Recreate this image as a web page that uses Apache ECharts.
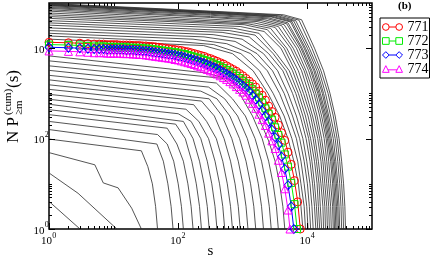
<!DOCTYPE html>
<html><head><meta charset="utf-8">
<script src="https://cdn.jsdelivr.net/npm/echarts@6/dist/echarts.min.js"></script>
<style>html,body{margin:0;padding:0;background:#fff}#c{width:431px;height:258px}</style>
</head><body><div id="c"></div>
<script>
// All curve values are stored as [log10(s), log10(N P)].
const lowCurves = [
 [[0,0.61],[0.48,0]],
 [[0,1.24],[0.45,0.79],[1.05,0]],
 [[0,1.69],[0.71,1.42],[0.84,1.02],[1.07,0.91],[1.28,0.46],[1.43,0]],
 [[0,1.99],[1.43,1.73],[1.53,1.38],[1.6,1.0],[1.65,0.5],[1.68,0]],
 [[0,2.2],[1.67,1.88],[1.77,1.5],[1.84,1.0],[1.89,0.5],[1.92,0]],
 [[0,2.38],[1.68,2.09],[1.83,1.88],[1.93,1.5],[2.0,1.0],[2.05,0.5],[2.08,0]]
];
const midCurves = [
 [[0,2.53],[1.83,2.23],[1.98,1.88],[2.08,1.5],[2.15,1.0],[2.2,0.5],[2.23,0]],
 [[0,2.64],[1.96,2.32],[2.11,2.0],[2.21,1.5],[2.28,1.0],[2.33,0.5],[2.36,0]],
 [[0,2.76],[2.08,2.38],[2.23,2.0],[2.33,1.5],[2.4,1.0],[2.45,0.5],[2.48,0]],
 [[0,2.87],[2.0,2.55],[2.2,2.38],[2.35,2.0],[2.45,1.5],[2.52,1.0],[2.57,0.5],[2.6,0]],
 [[0,2.98],[2.12,2.65],[2.32,2.38],[2.47,2.0],[2.57,1.5],[2.64,1.0],[2.69,0.5],[2.72,0]],
 [[0,3.09],[2.24,2.75],[2.44,2.38],[2.59,2.0],[2.69,1.5],[2.76,1.0],[2.81,0.5],[2.84,0]],
 [[0,3.19],[2.36,2.83],[2.56,2.5],[2.71,2.0],[2.81,1.5],[2.88,1.0],[2.93,0.5],[2.96,0]],
 [[0,3.3],[2.48,2.88],[2.68,2.5],[2.83,2.0],[2.93,1.5],[3.0,1.0],[3.05,0.5],[3.08,0]],
 [[0,3.4],[2.35,3.05],[2.6,2.88],[2.8,2.5],[2.95,2.0],[3.05,1.5],[3.12,1.0],[3.17,0.5],[3.2,0]],
 [[0,3.51],[2.47,3.14],[2.72,2.88],[2.92,2.5],[3.07,2.0],[3.17,1.5],[3.24,1.0],[3.29,0.5],[3.32,0]],
 [[0,3.61],[2.59,3.23],[2.84,2.88],[3.04,2.5],[3.19,2.0],[3.29,1.5],[3.36,1.0],[3.41,0.5],[3.44,0]],
 [[0,3.72],[2.7,3.33],[2.95,3.0],[3.15,2.5],[3.3,2.0],[3.4,1.5],[3.47,1.0],[3.52,0.5],[3.55,0]],
 [[0,3.83],[2.45,3.45],[2.8,3.3],[3.05,2.95],[3.25,2.45],[3.4,1.95],[3.5,1.5],[3.57,1.0],[3.62,0.5],[3.65,0]]
];
const highCurves = [
 [[0,4.2],[2.39,4.06],[2.84,3.88],[3.16,3.5],[3.39,3.0],[3.57,2.5],[3.7,2.0],[3.79,1.5],[3.86,1.0],[3.9,0.5],[3.93,0]],
 [[0,4.27],[1.97,4.15],[2.55,4.08],[2.97,3.88],[3.26,3.5],[3.47,3.0],[3.64,2.5],[3.76,2.0],[3.85,1.5],[3.9,1.0],[3.95,0.5],[3.97,0]],
 [[0,4.33],[2.23,4.2],[2.75,4.1],[3.12,3.88],[3.38,3.5],[3.57,3.0],[3.71,2.5],[3.83,2.0],[3.9,1.5],[3.95,1.0],[3.99,0.5],[4.01,0]],
 [[0,4.39],[2.4,4.25],[2.88,4.15],[3.22,3.88],[3.46,3.5],[3.64,3.0],[3.77,2.5],[3.88,2.0],[3.95,1.5],[4.0,1.0],[4.03,0.5],[4.05,0]],
 [[0,4.45],[2.54,4.3],[2.99,4.2],[3.32,3.88],[3.54,3.5],[3.7,3.0],[3.83,2.5],[3.93,2.0],[3.99,1.5],[4.04,1.0],[4.07,0.5],[4.09,0]],
 [[0,4.51],[2.68,4.35],[3.1,4.25],[3.4,3.88],[3.62,3.5],[3.77,3.0],[3.89,2.5],[3.98,2.0],[4.04,1.5],[4.08,1.0],[4.11,0.5],[4.13,0]],
 [[0,4.56],[2.79,4.39],[3.19,4.29],[3.47,3.88],[3.67,3.5],[3.82,3.0],[3.93,2.5],[4.02,2.0],[4.07,1.5],[4.11,1.0],[4.14,0.5],[4.16,0]],
 [[0,4.61],[2.86,4.44],[3.25,4.33],[3.52,3.88],[3.72,3.5],[3.86,3.0],[3.97,2.5],[4.05,2.0],[4.11,1.5],[4.15,1.0],[4.17,0.5],[4.19,0]],
 [[0,4.66],[2.96,4.48],[3.33,4.37],[3.59,4.0],[3.77,3.5],[3.9,3.0],[4.01,2.5],[4.09,2.0],[4.14,1.5],[4.18,1.0],[4.2,0.5],[4.22,0]],
 [[0,4.7],[3.02,4.52],[3.38,4.41],[3.64,4.0],[3.81,3.5],[3.94,3.0],[4.05,2.5],[4.12,2.0],[4.17,1.5],[4.21,1.0],[4.24,0.5],[4.25,0]],
 [[0,4.74],[3.08,4.54],[3.43,4.44],[3.68,4.0],[3.86,3.5],[3.98,3.0],[4.08,2.5],[4.16,2.0],[4.21,1.5],[4.24,1.0],[4.27,0.5],[4.28,0]],
 [[0,4.78],[3.17,4.56],[3.5,4.46],[3.74,4.0],[3.91,3.5],[4.02,3.0],[4.12,2.5],[4.19,2.0],[4.24,1.5],[4.27,1.0],[4.3,0.5],[4.31,0]],
 [[0,4.82],[3.22,4.59],[3.55,4.48],[3.78,4.0],[3.95,3.5],[4.06,3.0],[4.15,2.5],[4.22,2.0],[4.27,1.5],[4.3,1.0],[4.33,0.5],[4.34,0]],
 [[0,4.85],[2.5,4.68],[3.28,4.61],[3.6,4.5],[3.83,4.0],[3.98,3.5],[4.1,3.0],[4.19,2.5],[4.26,2.0],[4.3,1.5],[4.33,1.0],[4.36,0.5],[4.37,0]],
 [[0,4.88],[2.5,4.7],[3.33,4.63],[3.64,4.52],[3.87,4.0],[4.02,3.5],[4.13,3.0],[4.22,2.5],[4.29,2.0],[4.33,1.5],[4.36,1.0],[4.39,0.5],[4.4,0]],
 [[0,4.9],[2.5,4.73],[3.38,4.65],[3.68,4.54],[3.9,4.0],[4.05,3.5],[4.16,3.0],[4.25,2.5],[4.31,2.0],[4.36,1.5],[4.39,1.0],[4.41,0.5],[4.42,0]],
 [[0,4.92],[2.5,4.75],[3.4,4.67],[3.7,4.56],[3.92,4.0],[4.07,3.5],[4.18,3.0],[4.27,2.5],[4.33,2.0],[4.38,1.5],[4.41,1.0],[4.43,0.5],[4.44,0]],
 [[0,4.94],[2.5,4.77],[3.44,4.69],[3.74,4.58],[3.95,4.0],[4.1,3.5],[4.2,3.0],[4.29,2.5],[4.35,2.0],[4.4,1.5],[4.43,1.0],[4.45,0.5],[4.46,0]],
 [[0,4.95],[2.5,4.78],[3.46,4.7],[3.76,4.59],[3.97,4.0],[4.12,3.5],[4.23,3.0],[4.31,2.5],[4.37,2.0],[4.42,1.5],[4.45,1.0],[4.47,0.5],[4.48,0]],
 [[0,4.96],[2.5,4.79],[3.5,4.71],[3.79,4.6],[4.0,4.0],[4.15,3.5],[4.25,3.0],[4.33,2.5],[4.4,2.0],[4.44,1.5],[4.47,1.0],[4.49,0.5],[4.5,0]],
 [[0,4.97],[2.5,4.8],[3.53,4.72],[3.82,4.61],[4.03,4.0],[4.18,3.5],[4.28,3.0],[4.36,2.5],[4.43,2.0],[4.47,1.5],[4.5,1.0],[4.52,0.5],[4.53,0]],
 [[0,4.98],[2.5,4.81],[3.58,4.73],[3.87,4.62],[4.07,4.0],[4.21,3.5],[4.32,3.0],[4.4,2.5],[4.46,2.0],[4.5,1.5],[4.53,1.0],[4.55,0.5],[4.56,0]],
 [[0,4.99],[2.5,4.82],[3.63,4.74],[3.91,4.63],[4.11,4.0],[4.25,3.5],[4.35,3.0],[4.43,2.5],[4.49,2.0],[4.53,1.5],[4.56,1.0],[4.58,0.5],[4.59,0]]
];

// Colored series: shared log10(s) grid, log10(N P) per series, and final point
const sizeLog = [0,0.301,0.477,0.602,0.699,0.778,0.845,0.903,0.954,1,
 1.05,1.1,1.15,1.2,1.25,1.3,1.35,1.4,1.45,1.5,
 1.55,1.6,1.65,1.7,1.75,1.8,1.85,1.9,1.95,2,
 2.05,2.1,2.15,2.2,2.25,2.3,2.35,2.4,2.45,2.5,
 2.55,2.6,2.65,2.7,2.75,2.8,2.85,2.9,2.95,3,
 3.05,3.1,3.15,3.2,3.25,3.3,3.35,3.4,3.45,3.5,
 3.55,3.6,3.65,3.7,3.75,3.8,3.85];
const log771 = [4.13,4.12,4.11,4.10,4.09,4.09,4.09,4.08,4.08,4.08,
 4.08,4.07,4.07,4.07,4.07,4.06,4.06,4.06,4.05,4.05,
 4.04,4.04,4.03,4.02,4.01,4.00,3.99,3.98,3.97,3.96,
 3.95,3.93,3.92,3.90,3.88,3.86,3.84,3.82,3.79,3.77,
 3.74,3.71,3.68,3.65,3.61,3.57,3.53,3.49,3.44,3.39,
 3.33,3.27,3.21,3.14,3.05,2.96,2.85,2.72,2.60,2.47,
 2.30,2.13,1.96,1.70,1.43,1.07,0.60];
const log772 = [4.08,4.07,4.06,4.05,4.04,4.04,4.04,4.03,4.03,4.03,
 4.02,4.02,4.02,4.02,4.01,4.01,4.01,4.00,4.00,3.99,
 3.99,3.98,3.97,3.96,3.95,3.94,3.93,3.92,3.91,3.90,
 3.88,3.87,3.85,3.83,3.81,3.79,3.77,3.74,3.72,3.69,
 3.66,3.63,3.60,3.56,3.52,3.48,3.44,3.39,3.34,3.28,
 3.22,3.16,3.09,3.00,2.91,2.80,2.67,2.55,2.42,2.25,
 2.08,1.91,1.65,1.38,1.02,0.55];
const log773 = [4.02,4.01,4.00,3.99,3.98,3.98,3.98,3.97,3.97,3.97,
 3.97,3.97,3.97,3.96,3.96,3.96,3.95,3.95,3.94,3.94,
 3.93,3.92,3.91,3.90,3.89,3.88,3.87,3.86,3.85,3.83,
 3.82,3.80,3.78,3.76,3.74,3.72,3.69,3.67,3.64,3.61,
 3.58,3.55,3.51,3.47,3.43,3.39,3.34,3.29,3.23,3.17,
 3.11,3.04,2.95,2.86,2.75,2.62,2.50,2.37,2.20,2.03,
 1.86,1.60,1.33,0.97,0.50];
const log774 = [3.94,3.93,3.92,3.91,3.90,3.90,3.90,3.89,3.89,3.89,
 3.89,3.89,3.88,3.88,3.88,3.87,3.87,3.86,3.86,3.85,
 3.84,3.83,3.82,3.81,3.80,3.79,3.78,3.77,3.75,3.74,
 3.72,3.70,3.68,3.66,3.64,3.61,3.59,3.56,3.53,3.50,
 3.47,3.43,3.39,3.35,3.31,3.26,3.21,3.15,3.09,3.03,
 2.96,2.87,2.78,2.67,2.54,2.42,2.29,2.12,1.95,1.78,
 1.52,1.25,0.89,0.42];
const end771 = [3.89, 0], end772 = [3.84, 0], end773 = [3.79, 0], end774 = [3.73, 0];

const seriesNames = ['771','772','773','774'];
const seriesColors = ['#ff0000','#00ee00','#0000ff','#ff00ff'];
const labelVals = [1, 100, 10000];
const majorTickVals = [1, 100, 10000];
const minorTickVals = [2,3,4,5,6,7,8,9,10,200,300,400,500,600,700,800,900,1000,20000,30000,40000,50000,60000,70000,80000,90000];

const FONT = 'Liberation Serif';
const P = v => Math.pow(10, v);
const series = [];
[...lowCurves, ...midCurves, ...highCurves].forEach(c => {
  series.push({type:'line', data: c.map(p => [P(p[0]), P(p[1])]), symbol:'none', showSymbol:false,
    lineStyle:{color:'#2a2a2a', width:0.8}, silent:true, z:1, animation:false});
});
const colored = [
  {ly: log771, end: end771, symbol:'circle', size:8, icon:'path://M0,4a4,4 0 1,0 8,0a4,4 0 1,0 -8,0M8,4L16,4M16,4a4,4 0 1,0 8,0a4,4 0 1,0 -8,0'},
  {ly: log772, end: end772, symbol:'rect', size:7, icon:'path://M0,0L8,0L8,8L0,8ZM8,4L16,4M16,0L24,0L24,8L16,8Z'},
  {ly: log773, end: end773, symbol:'diamond', size:[8,9], icon:'path://M0,4L4,0L8,4L4,8ZM8,4L16,4M16,4L20,0L24,4L20,8Z'},
  {ly: log774, end: end774, symbol:'triangle', size:8, icon:'path://M0,8L4,0L8,8ZM6.5,5L17.5,5M16,8L20,0L24,8Z'}
];
colored.forEach((c, k) => {
  const data = c.ly.map((v, i) => [P(sizeLog[i]), P(v)]);
  data.push([P(c.end[0]), P(c.end[1])]);
  series.push({name: seriesNames[k], type:'line', data, symbol:c.symbol, symbolSize:c.size,
    showSymbol:true, showAllSymbol:true,
    itemStyle:{color:'rgba(0,0,0,0)', borderColor:seriesColors[k], borderWidth:1},
    lineStyle:{color:seriesColors[k], width:1}, z:3, animation:false, silent:true});
});

const axisCommon = {type:'log', logBase:10, min:1, max:100000,
  axisLine:{show:false}, splitLine:{show:false}, axisTick:{show:false}, minorTick:{show:false}, axisLabel:{show:false}};

const staticGraphic = [
  {type:'text', x:398, y:1, style:{text:'(b)', fontFamily:FONT, fontSize:11, fontWeight:'bold', fill:'#000'}},
  {type:'group', x:14, y:143, rotation:Math.PI/2, children:[
    {type:'text', x:0, y:0, style:{text:'N P', fontFamily:FONT, fontSize:17, fill:'#000', align:'left', verticalAlign:'middle'}},
    {type:'text', x:28, y:5, style:{text:'\u2265m', fontFamily:FONT, fontSize:11, fill:'#000', align:'left', verticalAlign:'middle'}},
    {type:'text', x:28, y:-6, style:{text:'(cum)', fontFamily:FONT, fontSize:11, fill:'#000', align:'left', verticalAlign:'middle'}},
    {type:'text', x:55, y:0, style:{text:'(s)', fontFamily:FONT, fontSize:17, fill:'#000', align:'left', verticalAlign:'middle'}}
  ]}
];

const option = {
  animation:false,
  backgroundColor:'#fff',
  grid:{left:49, right:59, top:3, bottom:29, show:true, borderColor:'#000', borderWidth:1.5, backgroundColor:'rgba(0,0,0,0)'},
  xAxis: Object.assign({position:'bottom'}, axisCommon),
  yAxis: Object.assign({position:'left'}, axisCommon),
  legend:{
    orient:'vertical', left:380, top:18, selectedMode:false,
    data: seriesNames.map((n, k) => ({name:n, icon:colored[k].icon,
      itemStyle:{color:'rgba(0,0,0,0)', borderColor:seriesColors[k], borderWidth:1}})),
    itemWidth:20, itemHeight:7, itemGap:0,
    textStyle:{fontFamily:FONT, fontSize:14, color:'#000', lineHeight:12.4},
    borderColor:'#000', borderWidth:1, padding:[2,1,2,2]
  },
  graphic: staticGraphic,
  series
};
const chart = echarts.init(document.getElementById('c'), null, {renderer:'canvas'});
chart.setOption(option);

// Ticks and tick labels placed through the chart's own log scales
const xp = v => chart.convertToPixel({xAxisIndex:0}, v);
const yp = v => chart.convertToPixel({yAxisIndex:0}, v);
const X0 = xp(1), X1 = xp(100000), Y0 = yp(1), Y1 = yp(100000);
const deco = [];
const tick = (x1, y1, x2, y2) => deco.push({type:'line', silent:true, z:10,
  shape:{x1, y1, x2, y2}, style:{stroke:'#000', lineWidth:1}});
const r = v => Math.round(v) + 0.5;
majorTickVals.forEach(v => {
  const x = r(xp(v)), y = r(yp(v));
  tick(x, Y0, x, Y0 - 6); tick(x, Y1, x, Y1 + 6);
  tick(X0, y, X0 + 6, y); tick(X1, y, X1 - 6, y);
});
minorTickVals.forEach(v => {
  const x = r(xp(v)), y = r(yp(v));
  tick(x, Y0, x, Y0 - 3); tick(x, Y1, x, Y1 + 3);
  tick(X0, y, X0 + 3, y); tick(X1, y, X1 - 3, y);
});
labelVals.forEach(v => {
  const e = String(Math.round(Math.log10(v)));
  const x = xp(v), y = yp(v);
  deco.push({type:'text', silent:true, x: x + 3, y: Y0 + 12.5, style:{text:'10', fontFamily:FONT, fontSize:11, fill:'#000', align:'right', verticalAlign:'middle'}});
  deco.push({type:'text', silent:true, x: x + 3.3, y: Y0 + 6.5, style:{text:e, fontFamily:FONT, fontSize:8, fill:'#000', align:'left', verticalAlign:'middle'}});
  deco.push({type:'text', silent:true, x: X0 - 4.5, y: y + 2, style:{text:'10', fontFamily:FONT, fontSize:11, fill:'#000', align:'right', verticalAlign:'middle'}});
  deco.push({type:'text', silent:true, x: X0 - 4.2, y: y - 4, style:{text:e, fontFamily:FONT, fontSize:8, fill:'#000', align:'left', verticalAlign:'middle'}});
});
deco.push({type:'text', silent:true, x:(X0 + X1) / 2, y:Y0 + 22, style:{text:'s', fontFamily:FONT, fontSize:15, fill:'#000', align:'center', verticalAlign:'middle'}});
chart.setOption({graphic: staticGraphic.concat(deco)}, {replaceMerge:['graphic']});
</script>
</body></html>
